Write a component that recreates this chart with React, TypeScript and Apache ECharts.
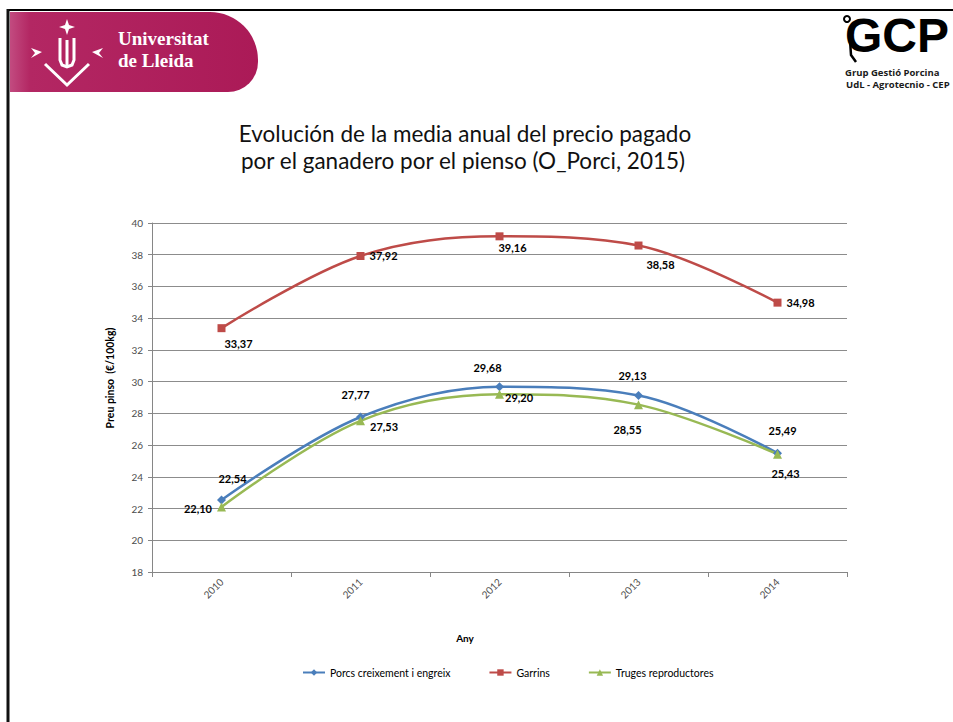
import React, { useEffect, useRef } from "react";
import * as echarts from "echarts";

const years = ["2010", "2011", "2012", "2013", "2014"];
const porcs = [22.54, 27.77, 29.68, 29.13, 25.49];
const garrins = [33.37, 37.92, 39.16, 38.58, 34.98];
const truges = [22.1, 27.53, 29.2, 28.55, 25.43];
const seriesNames = ["Porcs creixement i engreix", "Garrins", "Truges reproductores"];
const yMin = 18;
const yMax = 40;
const yStep = 2;

const titleLines = [
  "Evolución de la media anual del precio pagado",
  "por el ganadero por el pienso (O_Porci, 2015)",
];
const yAxisTitle = "Preu pinso\u00a0\u00a0(€/100kg)";
const xAxisTitle = "Any";

// label placement (style only)
const porcsLabel: [string, number, number][] = [
  ["top", 11, -6],
  ["top", -5, -8],
  ["top", -12, -4],
  ["top", -6, -5],
  ["top", 5, -8],
];
const garrinsLabel: [string, number, number][] = [
  ["bottom", 17, 1],
  ["right", 0, 0],
  ["bottom", 13, -3],
  ["bottom", 22, 4],
  ["right", 0, 0],
];
const trugesLabel: [string, number, number][] = [
  ["left", 0, 2],
  ["right", 0, 6],
  ["right", -4, 3],
  ["bottom", -11, 10],
  ["bottom", 8, 4],
];

const FONT = "Lato, 'Open Sans', sans-serif";
const fmt = (v: number) => v.toFixed(2).replace(".", ",");

function buildData(vals: number[], place: [string, number, number][]) {
  return vals.map((v, i) => ({
    value: v,
    label: { position: place[i][0], offset: [place[i][1], place[i][2]] },
  }));
}

export default function App() {
  const ref = useRef<HTMLDivElement>(null);
  useEffect(() => {
    if (!ref.current) return;
    const chart = echarts.init(ref.current, null, { renderer: "svg" });
    const labelStyle = {
      show: true,
      fontSize: 11,
      fontWeight: "bold",
      color: "#000",
      fontFamily: FONT,
      formatter: (p: any) => fmt(p.value),
    };
    const mkSeries = (name: string, vals: number[], place: any, color: string, symbol: string, size: number) => ({
      name,
      type: "line",
      smooth: 0.35,
      data: buildData(vals, place),
      symbol,
      symbolSize: size,
      lineStyle: { color, width: 2.5 },
      itemStyle: { color },
      label: labelStyle,
      emphasis: { disabled: true },
    });
    const white = "#ffffff";
    chart.setOption({
      animation: false,
      backgroundColor: "#ffffff",
      textStyle: { fontFamily: FONT },
      grid: { left: 152, right: 106, top: 223, bottom: 150 },
      legend: {
        left: 302,
        top: 667,
        itemWidth: 22,
        itemHeight: 8,
        itemGap: 38,
        padding: 0,
        textStyle: { fontSize: 10.5, color: "#000", fontFamily: FONT },
        data: seriesNames,
      },
      xAxis: {
        type: "category",
        data: years,
        boundaryGap: true,
        axisLine: { lineStyle: { color: "#868686" } },
        axisTick: { show: true, length: 5, interval: 0, lineStyle: { color: "#868686" } },
        axisLabel: { rotate: 45, fontSize: 10, color: "#4d4d4d", margin: 8, fontFamily: FONT },
        splitLine: { show: false },
      },
      yAxis: {
        type: "value",
        min: yMin,
        max: yMax,
        interval: yStep,
        axisLine: { show: true, lineStyle: { color: "#868686" } },
        axisTick: { show: true, length: 4, lineStyle: { color: "#868686" } },
        axisLabel: { fontSize: 10, color: "#4d4d4d", margin: 9, fontFamily: FONT },
        splitLine: { lineStyle: { color: "#8c8c8c", width: 1 } },
      },
      series: [
        mkSeries(seriesNames[0], porcs, porcsLabel, "#4a7ebb", "diamond", 9),
        mkSeries(seriesNames[1], garrins, garrinsLabel, "#be4b48", "rect", 8),
        mkSeries(seriesNames[2], truges, trugesLabel, "#98b954", "triangle", 9),
      ],
      graphic: [
        // slide frame
        { type: "line", shape: { x1: 8, y1: 10, x2: 953, y2: 10 }, style: { stroke: "#000", lineWidth: 2 } },
        { type: "line", shape: { x1: 8, y1: 9, x2: 8, y2: 722 }, style: { stroke: "#111", lineWidth: 3 } },
        // university band
        {
          type: "rect",
          shape: { x: 10, y: 12, width: 248, height: 80, r: [0, 48, 30, 0] },
          style: {
            fill: new echarts.graphic.LinearGradient(0, 0, 1, 0, [
              { offset: 0, color: "#c24b80" },
              { offset: 0.08, color: "#b32763" },
              { offset: 1, color: "#ab1a57" },
            ]),
          },
        },
        // logo: star
        {
          type: "polygon",
          shape: { points: [[67, 19], [69, 25], [75, 27], [69, 29], [67, 35], [65, 29], [59, 27], [65, 25]] },
          style: { fill: white },
        },
        // logo: U
        {
          type: "polyline",
          shape: { points: [[60, 38], [60, 60], [62, 65], [67, 67], [72, 65], [74, 60], [74, 38]] },
          style: { stroke: white, lineWidth: 3, fill: null },
        },
        { type: "line", shape: { x1: 67, y1: 40, x2: 67, y2: 66 }, style: { stroke: white, lineWidth: 3 } },
        // logo: V
        {
          type: "polyline",
          shape: { points: [[45, 64], [67, 85], [89, 64]] },
          style: { stroke: white, lineWidth: 3, fill: null },
        },
        // logo: side arrows
        {
          type: "polygon",
          shape: { points: [[31, 48], [42, 52], [31, 58], [35, 53]] },
          style: { fill: white },
        },
        {
          type: "polygon",
          shape: { points: [[103, 48], [92, 52], [103, 58], [99, 53]] },
          style: { fill: white },
        },
        {
          type: "text",
          x: 118,
          y: 29,
          style: {
            text: "Universitat",
            fill: white,
            font: "bold 19px 'Liberation Serif', 'DejaVu Serif', serif",
          },
        },
        {
          type: "text",
          x: 118,
          y: 51,
          style: {
            text: "de Lleida",
            fill: white,
            font: "bold 19px 'Liberation Serif', 'DejaVu Serif', serif",
          },
        },
        // GCP logo
        {
          type: "text",
          x: 845,
          y: 11,
          style: {
            text: "GCP",
            fill: "#000",
            font: "bold 48px 'Liberation Sans', sans-serif",
          },
        },
        { type: "ring", shape: { cx: 847, cy: 19, r: 4, r0: 2 }, style: { fill: "#000" } },
        {
          type: "polyline",
          shape: { points: [[850, 40], [851, 55], [856, 62]] },
          style: { stroke: "#000", lineWidth: 2.5, fill: null },
        },
        {
          type: "text",
          x: 845,
          y: 67,
          style: {
            text: "Grup Gestió Porcina",
            fill: "#1a1a1a",
            font: "bold 9.5px 'Open Sans', sans-serif",
          },
        },
        {
          type: "text",
          x: 846,
          y: 79,
          style: {
            text: "UdL - Agrotecnio - CEP",
            fill: "#1a1a1a",
            font: "bold 9.5px 'Open Sans', sans-serif",
          },
        },
        // title
        {
          type: "text",
          x: 465,
          y: 133,
          style: {
            text: titleLines[0],
            fill: "#111",
            font: "22.5px " + FONT,
            align: "center",
            verticalAlign: "middle",
          },
        },
        {
          type: "text",
          x: 463,
          y: 160,
          style: {
            text: titleLines[1],
            fill: "#111",
            font: "22.5px " + FONT,
            align: "center",
            verticalAlign: "middle",
          },
        },
        // axis names
        {
          type: "text",
          x: 110,
          y: 378,
          rotation: Math.PI / 2,
          style: {
            text: yAxisTitle,
            fill: "#000",
            font: "bold 10.5px " + FONT,
            align: "center",
            verticalAlign: "middle",
          },
        },
        {
          type: "text",
          x: 465,
          y: 638,
          style: {
            text: xAxisTitle,
            fill: "#000",
            font: "bold 10px " + FONT,
            align: "center",
            verticalAlign: "middle",
          },
        },
      ],
    });
    return () => chart.dispose();
  }, []);
  return <div ref={ref} style={{ position: "absolute", left: 0, top: 0, width: 953, height: 722 }} />;
}
